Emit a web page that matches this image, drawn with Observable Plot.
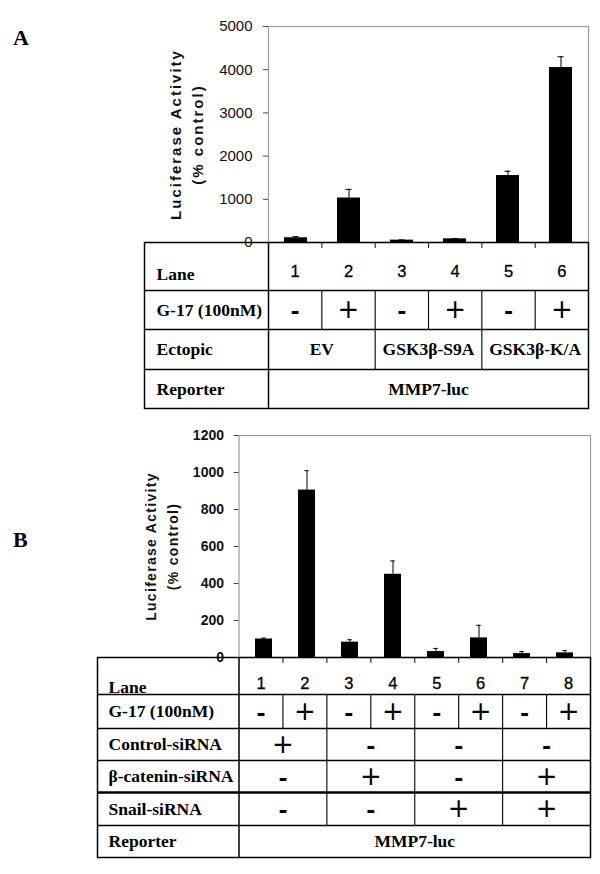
<!DOCTYPE html>
<html>
<head>
<meta charset="utf-8">
<script src="https://cdn.jsdelivr.net/npm/d3@7"></script>
<script src="https://cdn.jsdelivr.net/npm/@observablehq/plot@0.6"></script>
<style>
  body { margin: 0; background: #fff; }
  #page { position: relative; width: 600px; height: 874px; overflow: hidden; background: #fff; }
  #page svg { position: absolute; left: 0; max-width: none; }
  .letter { position: absolute; left: 13px; font-family: "Liberation Serif", "Times New Roman", serif; font-weight: bold; font-size: 22px; line-height: 22px; color: #000; }
</style>
</head>
<body>
<div id="page"></div>
<script>
// ---------- DATA ----------
const yTitle = ["Luciferase Activity", "(% control)"];

// Panel A
const lanesA = ["1", "2", "3", "4", "5", "6"];
const valuesA = [110, 1030, 55, 85, 1550, 4050];
const errorsA = [25, 200, 5, 5, 100, 250];
const ticksA = [0, 1000, 2000, 3000, 4000, 5000];
const g17A = ["-", "+", "-", "+", "-", "+"];
const ectopicA = ["EV", "GSK3β-S9A", "GSK3β-K/A"];
const reporterA = ["MMP7-luc"];
const rowLabelsA = ["Lane", "G-17 (100nM)", "Ectopic", "Reporter"];

// Panel B
const lanesB = ["1", "2", "3", "4", "5", "6", "7", "8"];
const valuesB = [100, 905, 83, 450, 32, 106, 21, 25];
const errorsB = [5, 105, 13, 72, 17, 68, 11, 13];
const ticksB = [0, 200, 400, 600, 800, 1000, 1200];
const g17B = ["-", "+", "-", "+", "-", "+", "-", "+"];
const controlB = ["+", "-", "-", "-"];
const betaB = ["-", "+", "-", "+"];
const snailB = ["-", "-", "+", "+"];
const reporterB = ["MMP7-luc"];
const rowLabelsB = ["Lane", "G-17 (100nM)", "Control-siRNA", "β-catenin-siRNA", "Snail-siRNA", "Reporter"];

const SANS = "Liberation Sans, Arial, sans-serif";
const SERIF = "Liberation Serif, Times New Roman, serif";
const SYM = "DejaVu Sans, sans-serif";
const page = document.getElementById("page");

function place(svg, top) {
  svg.style.top = top + "px";
  page.appendChild(svg);
}

function makeChart(c) {
  const data = c.lanes.map((lane, i) => ({lane, value: c.values[i], err: c.errors[i]}));
  const n = c.lanes.length;
  const bw = (c.range[1] - c.range[0]) / n * (1 - c.pad);
  const capInset = (bw - c.capWidth) / 2;
  const svg = Plot.plot({
    width: 600,
    height: c.height,
    marginTop: c.marginTop,
    marginBottom: c.marginBottom,
    marginLeft: c.range[0],
    marginRight: 600 - c.range[1],
    style: {background: "transparent", overflow: "visible", fontFamily: SANS},
    x: {type: "band", domain: c.lanes, range: c.range, paddingInner: c.pad, paddingOuter: c.pad / 2, axis: null},
    y: {domain: [0, c.ticks[c.ticks.length - 1]]},
    marks: [
      Plot.frame({stroke: "#9c9c9c", strokeWidth: 1.2}),
      Plot.axisY({
        ticks: c.ticks, tickSize: 5, tickPadding: c.tickPadding, tickFormat: d => String(d),
        fontSize: c.tickFontSize, fontWeight: c.tickWeight, fill: "#111", stroke: "#444",
        line: true, label: null
      }),
      Plot.barY(data, {x: "lane", y: "value", fill: "#000"}),
      Plot.ruleX(data, {x: "lane", y1: "value", y2: d => d.value + d.err, stroke: "#000", strokeWidth: 1}),
      Plot.tickY(data, {x: "lane", y: d => d.value + d.err, stroke: "#000", strokeWidth: 1, insetLeft: capInset, insetRight: capInset}),
      Plot.text([yTitle[0]], {frameAnchor: "left", dx: c.titleDx[0], rotate: -90, text: d => d,
        textAnchor: "middle", lineAnchor: "middle",
        fontSize: c.titleSize, fontWeight: "bold", fill: "#111"}),
      Plot.text([yTitle[1]], {frameAnchor: "left", dx: c.titleDx[1], rotate: -90, text: d => d,
        textAnchor: "middle", lineAnchor: "middle",
        fontSize: c.titleSize, fontWeight: "bold", fill: "#111"})
    ]
  });
  d3.select(svg).selectAll("text")
    .filter(function () { return yTitle.includes(this.textContent); })
    .attr("letter-spacing", c.titleSpacing + "px");
  place(svg, c.top);
}

function makeTable(c) {
  const n = c.nLanes;
  const bounds = Array.from(d3.cumsum([0, ...c.rowHeights]));
  const totalH = bounds[bounds.length - 1];
  const cells = [];
  const dividers = [];
  c.rows.forEach((row, r) => {
    const span = n / row.cells.length;
    row.cells.forEach((t, i) => {
      const kind = row.kind === "sym" ? (t === "+" ? "plus" : "minus") : row.kind;
      cells.push({
        text: t, kind,
        x: (i + 0.5) * span,
        y: row.kind === "lane" ? bounds[r] + c.laneNumY : (bounds[r] + bounds[r + 1]) / 2
      });
      if (row.dividers && i > 0) dividers.push({x: i * span, y1: bounds[r], y2: bounds[r + 1]});
    });
  });
  const labels = c.rows.map((row, r) => ({
    label: row.label,
    y: r === 0 ? bounds[r] + c.laneLabelY : (bounds[r] + bounds[r + 1]) / 2
  }));
  const innerBounds = bounds.slice(1, -1).map((y, i) => ({y, w: c.thick.includes(i + 1) ? 2.6 : 1.3}));
  const mt = 2, mb = 3;
  const svg = Plot.plot({
    width: 600,
    height: mt + totalH + mb,
    marginTop: mt,
    marginBottom: mb,
    marginLeft: c.left,
    marginRight: 600 - c.right,
    style: {background: "transparent", overflow: "visible", fontFamily: SANS},
    x: {domain: [0, n], range: [c.divider, c.right], axis: null},
    y: {domain: [0, totalH], range: [mt, mt + totalH], axis: null},
    marks: [
      Plot.ruleY(innerBounds, {y: "y", stroke: "#000", strokeWidth: "w"}),
      Plot.ruleX([0], {stroke: "#000", strokeWidth: 1.5}),
      Plot.ruleX(dividers, {x: "x", y1: "y1", y2: "y2", stroke: "#000", strokeWidth: 1.1}),
      Plot.ruleX(d3.range(1, n), {x: d => d, y1: 0, y2: 6, stroke: "#333", strokeWidth: 1.2}),
      Plot.frame({stroke: "#000", strokeWidth: 1.5}),
      Plot.text(labels, {frameAnchor: "left", y: "y", dx: c.labelPad, textAnchor: "start", text: "label",
        fontFamily: SERIF, fontWeight: "bold", fontSize: 17.5, fill: "#000"}),
      Plot.text(cells.filter(d => d.kind === "lane"), {x: "x", y: "y", text: "text",
        fontFamily: SANS, fontSize: 16.5, fill: "#000", stroke: "#000", strokeWidth: 0.3}),
      Plot.text(cells.filter(d => d.kind === "plus"), {x: "x", y: "y", text: "text",
        fontFamily: SYM, fontSize: 26, fill: "#000"}),
      Plot.text(cells.filter(d => d.kind === "minus"), {x: "x", y: "y", dy: 2, text: "text",
        fontFamily: SYM, fontWeight: "bold", fontSize: 22, fill: "#000"}),
      Plot.text(cells.filter(d => d.kind === "word"), {x: "x", y: "y", text: "text",
        fontFamily: SERIF, fontWeight: "bold", fontSize: 17.5, fill: "#000"})
    ]
  });
  place(svg, c.top - mt);
}

// ---------- PANEL A ----------
makeChart({
  lanes: lanesA, values: valuesA, errors: errorsA, ticks: ticksA,
  top: 0, height: 250, marginTop: 26, marginBottom: 8, range: [268, 588], pad: 0.57,
  capWidth: 6, tickPadding: 11, tickFontSize: 15, tickWeight: "normal",
  titleDx: [-92, -70], titleSize: 15, titleSpacing: 2
});
makeTable({
  top: 242, left: 144, divider: 268, right: 588, nLanes: lanesA.length,
  rowHeights: [48, 39, 40, 39], laneNumY: 29, laneLabelY: 32, labelPad: 12, thick: [],
  rows: [
    {label: rowLabelsA[0], kind: "lane", cells: lanesA, dividers: false},
    {label: rowLabelsA[1], kind: "sym", cells: g17A, dividers: true},
    {label: rowLabelsA[2], kind: "word", cells: ectopicA, dividers: true},
    {label: rowLabelsA[3], kind: "word", cells: reporterA, dividers: true}
  ]
});

// ---------- PANEL B ----------
makeChart({
  lanes: lanesB, values: valuesB, errors: errorsB, ticks: ticksB,
  top: 420, height: 245, marginTop: 15, marginBottom: 8, range: [238.5, 590], pad: 0.6,
  capWidth: 5, tickPadding: 10, tickFontSize: 14, tickWeight: "bold",
  titleDx: [-87, -65], titleSize: 14, titleSpacing: 1.3
});
makeTable({
  top: 657, left: 97, divider: 238.5, right: 590, nLanes: lanesB.length,
  rowHeights: [37, 34, 32, 32, 33, 32], laneNumY: 26, laneLabelY: 29.5, labelPad: 11, thick: [4],
  rows: [
    {label: rowLabelsB[0], kind: "lane", cells: lanesB, dividers: false},
    {label: rowLabelsB[1], kind: "sym", cells: g17B, dividers: true},
    {label: rowLabelsB[2], kind: "sym", cells: controlB, dividers: true},
    {label: rowLabelsB[3], kind: "sym", cells: betaB, dividers: true},
    {label: rowLabelsB[4], kind: "sym", cells: snailB, dividers: true},
    {label: rowLabelsB[5], kind: "word", cells: reporterB, dividers: true}
  ]
});

// panel letters
for (const [t, top] of [["A", 26.6], ["B", 528.6]]) {
  const d = document.createElement("div");
  d.className = "letter";
  d.style.top = top + "px";
  d.textContent = t;
  page.appendChild(d);
}
</script>
</body>
</html>
